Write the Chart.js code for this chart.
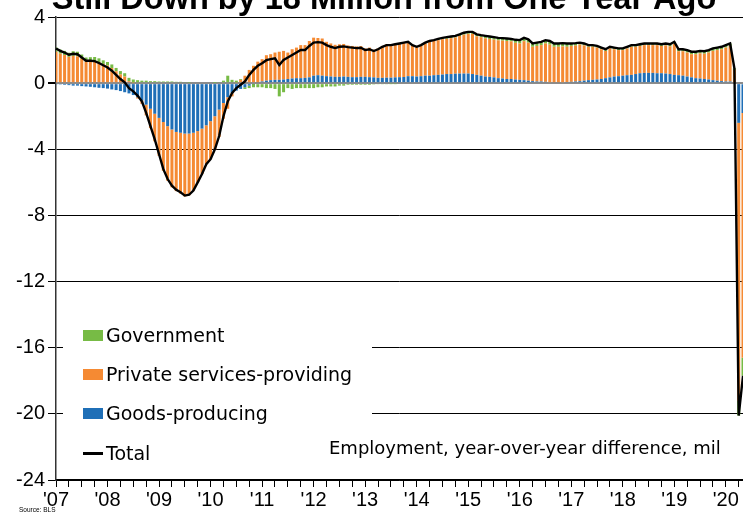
<!DOCTYPE html>
<html>
<head>
<meta charset="utf-8">
<script src="https://cdn.jsdelivr.net/npm/chart.js@4.4.1/dist/chart.umd.min.js"></script>
<style>
  html, body { margin: 0; padding: 0; background: #fff; }
  #wrap { width: 743px; height: 515px; position: relative; }
</style>
</head>
<body>
<div id="wrap"><canvas id="jobsChart" width="743" height="515"></canvas></div>
<script>
(function () {
  "use strict";

  // year labels for the x axis ('07 .. '20); data is monthly Jan 2007 - May 2020
  var years = ["07", "08", "09", "10", "11", "12", "13", "14", "15", "16", "17", "18", "19", "20"];

  // year-over-year change, millions
  var goodsProducing = [
    -0.05, -0.08, -0.1, -0.12, -0.15, -0.15, -0.18, -0.2, -0.22, -0.25, -0.28, -0.3,
    -0.33, -0.38, -0.42, -0.48, -0.55, -0.62, -0.72, -0.85, -1.05, -1.3, -1.55, -1.85,
    -2.1, -2.35, -2.6, -2.8, -2.95, -3.0, -3.05, -3.05, -3.0, -2.9, -2.75, -2.55,
    -2.3, -2.0, -1.6, -1.2, -0.85, -0.6, -0.45, -0.35, -0.25, -0.15, -0.05, 0.05,
    0.1, 0.15, 0.18, 0.2, 0.2, 0.22, 0.25, 0.28, 0.3, 0.3, 0.32, 0.35,
    0.45, 0.48, 0.45, 0.42, 0.4, 0.38, 0.38, 0.4, 0.38, 0.36, 0.36, 0.38,
    0.38, 0.36, 0.35, 0.32, 0.32, 0.33, 0.33, 0.35, 0.36, 0.37, 0.42, 0.42,
    0.4, 0.42, 0.45, 0.45, 0.48, 0.5, 0.52, 0.55, 0.55, 0.57, 0.58, 0.58,
    0.58, 0.55, 0.5, 0.45, 0.4, 0.38, 0.35, 0.3, 0.28, 0.25, 0.25, 0.22,
    0.2, 0.18, 0.15, 0.12, 0.1, 0.1, 0.08, 0.06, 0.05, 0.05, 0.06, 0.07,
    0.08, 0.1, 0.12, 0.15, 0.18, 0.2, 0.22, 0.25, 0.3, 0.35, 0.4, 0.42,
    0.45, 0.48, 0.5, 0.55, 0.6, 0.62, 0.62, 0.62, 0.6, 0.6, 0.58, 0.55,
    0.5, 0.48, 0.45, 0.4, 0.35, 0.3, 0.28, 0.25, 0.22, 0.18, 0.15, 0.12,
    0.1, 0.1, 0.05, -2.4, -1.8
  ];

  var privateServices = [
    1.9, 1.78, 1.7, 1.59, 1.65, 1.62, 1.48, 1.3, 1.32, 1.33, 1.28, 1.16,
    1.06, 0.91, 0.72, 0.53, 0.4, 0.12, 0.04, -0.08, -0.2, -0.65, -1.17, -1.67,
    -2.3, -2.95, -3.3, -3.5, -3.58, -3.68, -3.8, -3.73, -3.5, -3.1, -2.75, -2.35,
    -2.3, -2.02, -1.65, -0.95, -0.7, -0.2, 0.05, 0.2, 0.45, 0.8, 1.05, 1.25,
    1.35, 1.54, 1.57, 1.65, 1.7, 1.73, 1.6, 1.77, 1.85, 2.0, 1.98, 2.2,
    2.3, 2.25, 2.25, 2.08, 2.0, 1.94, 1.97, 1.97, 1.9, 1.89, 1.86, 1.86,
    1.72, 1.79, 1.67, 1.78, 1.93, 2.02, 2.0, 2.03, 2.04, 2.08, 2.06, 1.86,
    1.77, 1.83, 1.95, 2.05, 2.07, 2.1, 2.14, 2.13, 2.17, 2.19, 2.27, 2.35,
    2.4, 2.43, 2.33, 2.33, 2.31, 2.29, 2.28, 2.29, 2.29, 2.3, 2.28, 2.22,
    2.2, 2.36, 2.3, 2.08, 2.15, 2.2, 2.32, 2.27, 2.15, 2.15, 2.16, 2.13,
    2.17, 2.17, 2.21, 2.13, 2.02, 2.0, 1.93, 1.8, 1.65, 1.75, 1.65, 1.58,
    1.55, 1.62, 1.7, 1.65, 1.65, 1.68, 1.68, 1.68, 1.7, 1.65, 1.7, 1.68,
    1.88, 1.45, 1.48, 1.45, 1.4, 1.45, 1.52, 1.53, 1.63, 1.77, 1.85, 1.93,
    2.05, 2.15, 0.75, -16.8, -14.8
  ];

  var government = [
    0.25, 0.25, 0.25, 0.25, 0.28, 0.28, 0.25, 0.25, 0.25, 0.25, 0.22, 0.22,
    0.22, 0.22, 0.2, 0.2, 0.2, 0.2, 0.18, 0.18, 0.15, 0.15, 0.12, 0.12,
    0.1, 0.1, 0.1, 0.1, 0.08, 0.08, 0.05, 0.03, 0.0, 0.0, 0.0, 0.0,
    0.0, 0.02, 0.05, 0.15, 0.45, 0.2, 0.1, 0.05, -0.1, -0.15, -0.2, -0.25,
    -0.25, -0.3, -0.3, -0.35, -0.8, -0.55, -0.3, -0.35, -0.3, -0.3, -0.3, -0.3,
    -0.3, -0.25, -0.25, -0.2, -0.2, -0.2, -0.15, -0.15, -0.1, -0.1, -0.1, -0.1,
    -0.1, -0.1, -0.08, -0.05, -0.05, -0.05, -0.03, -0.03, 0.0, 0.0, 0.02, 0.02,
    0.03, 0.05, 0.05, 0.05, 0.05, 0.08, 0.08, 0.1, 0.1, 0.1, 0.1, 0.12,
    0.12, 0.12, 0.12, 0.12, 0.15, 0.15, 0.15, 0.15, 0.15, 0.15, 0.15, 0.18,
    0.2, 0.2, 0.2, 0.2, 0.2, 0.2, 0.2, 0.22, 0.2, 0.2, 0.2, 0.2,
    0.15, 0.15, 0.12, 0.12, 0.1, 0.1, 0.1, 0.1, 0.1, 0.1, 0.1, 0.1,
    0.1, 0.1, 0.1, 0.1, 0.1, 0.1, 0.1, 0.1, 0.1, 0.1, 0.12, 0.12,
    0.12, 0.12, 0.12, 0.15, 0.15, 0.15, 0.15, 0.15, 0.15, 0.15, 0.15, 0.15,
    0.15, 0.15, 0.1, -0.9, -1.1
  ];

  var totalEmployment = [
    2.1, 1.95, 1.85, 1.72, 1.78, 1.75, 1.55, 1.35, 1.35, 1.33, 1.22, 1.08,
    0.95, 0.75, 0.5, 0.25, 0.05, -0.3, -0.5, -0.75, -1.1, -1.8, -2.6, -3.4,
    -4.3, -5.2, -5.8, -6.2, -6.45, -6.6, -6.8, -6.75, -6.5, -6.0, -5.5, -4.9,
    -4.6, -4.0, -3.2, -2.0, -1.1, -0.6, -0.3, -0.1, 0.1, 0.5, 0.8, 1.05,
    1.2, 1.39, 1.45, 1.5, 1.1, 1.4, 1.55, 1.7, 1.85, 2.0, 2.0, 2.25,
    2.45, 2.48, 2.45, 2.3, 2.2, 2.12, 2.2, 2.22, 2.18, 2.15, 2.12, 2.14,
    2.0, 2.05, 1.94, 2.05, 2.2, 2.3, 2.3, 2.35, 2.4, 2.45, 2.5, 2.3,
    2.2, 2.3, 2.45, 2.55, 2.6, 2.68, 2.74, 2.78, 2.82, 2.86, 2.95, 3.05,
    3.1, 3.1, 2.95, 2.9, 2.86, 2.82, 2.78, 2.74, 2.72, 2.7, 2.68, 2.62,
    2.6, 2.74, 2.65, 2.4, 2.45, 2.5, 2.6, 2.55, 2.4, 2.4, 2.42, 2.4,
    2.4, 2.42, 2.45, 2.4, 2.3, 2.3, 2.25, 2.15, 2.05, 2.2, 2.15, 2.1,
    2.1, 2.2, 2.3, 2.3, 2.35, 2.4, 2.4, 2.4, 2.4, 2.35, 2.4, 2.35,
    2.5, 2.05, 2.05, 2.0, 1.9, 1.9, 1.95, 1.93, 2.0, 2.1, 2.15, 2.2,
    2.3, 2.4, 0.9, -20.1, -17.7
  ];

  var months = [];
  years.forEach(function (yy) {
    for (var m = 1; m <= 12; m++) {
      if (months.length < totalEmployment.length) months.push("20" + yy + "-" + (m < 10 ? "0" : "") + m);
    }
  });

  var GREEN = "#77bb45";
  var ORANGE = "#f58a33";
  var BLUE = "#1f6fb7";

  var tickFont = { family: "'Liberation Sans', Arial, sans-serif", size: 20 };

  // title (cut off at the top), legend box, note and source
  var decorations = {
    id: "decorations",
    afterDraw: function (chart) {
      var ctx = chart.ctx;
      ctx.save();
      ctx.fillStyle = "#000";
      ctx.font = "bold 32.5px 'Liberation Sans', Arial, sans-serif";
      ctx.textAlign = "center";
      ctx.textBaseline = "alphabetic";
      ctx.fillText("Still Down by 18 Million from One Year Ago", 384, 9);

      // legend
      ctx.fillStyle = "#fff";
      ctx.fillRect(63, 300, 309, 172);
      var items = [
        { label: "Government", color: GREEN, y: 342 },
        { label: "Private services-providing", color: ORANGE, y: 381 },
        { label: "Goods-producing", color: BLUE, y: 420 },
        { label: "Total", color: "#000", y: 460, line: true }
      ];
      ctx.textAlign = "left";
      ctx.font = "19px 'DejaVu Sans', Verdana, sans-serif";
      items.forEach(function (it) {
        ctx.fillStyle = it.color;
        if (it.line) {
          ctx.fillRect(83, it.y - 8, 20, 3);
        } else {
          ctx.fillRect(83, it.y - 12, 20, 11);
        }
        ctx.fillStyle = "#000";
        ctx.fillText(it.label, 106, it.y);
      });

      ctx.font = "18px 'DejaVu Sans', Verdana, sans-serif";
      ctx.fillText("Employment, year-over-year difference, mil", 329, 454);

      ctx.font = "6.5px 'Liberation Sans Narrow', 'Liberation Sans', Arial, sans-serif";
      ctx.fillText("Source: BLS", 19, 512);
      ctx.restore();
    }
  };

  var canvas = document.getElementById("jobsChart");
  new Chart(canvas.getContext("2d"), {
    type: "bar",
    data: {
      labels: months,
      datasets: [
        {
          type: "line",
          label: "Total",
          data: totalEmployment,
          borderColor: "#000",
          borderWidth: 2.4,
          pointRadius: 0,
          tension: 0,
          stack: "total",
          order: 0
        },
        {
          label: "Goods-producing",
          data: goodsProducing,
          backgroundColor: BLUE,
          stack: "parts",
          barPercentage: 0.7,
          categoryPercentage: 1,
          order: 1
        },
        {
          label: "Private services-providing",
          data: privateServices,
          backgroundColor: ORANGE,
          stack: "parts",
          barPercentage: 0.7,
          categoryPercentage: 1,
          order: 1
        },
        {
          label: "Government",
          data: government,
          backgroundColor: GREEN,
          stack: "parts",
          barPercentage: 0.7,
          categoryPercentage: 1,
          order: 1
        }
      ]
    },
    options: {
      responsive: false,
      animation: false,
      layout: { padding: { top: 17, left: 0, right: 0, bottom: 0 } },
      scales: {
        x: {
          stacked: true,
          offset: false,
          afterFit: function (scale) { scale.height = 35; },
          grid: {
            offset: false,
            drawOnChartArea: false,
            drawTicks: true,
            tickLength: 7,
            color: "#000"
          },
          border: { display: true, color: "#000", width: 1.5 },
          ticks: {
            autoSkip: false,
            maxRotation: 0,
            minRotation: 0,
            padding: 1,
            color: "#000",
            font: tickFont,
            callback: function (value, index) {
              if (index % 12 === 0) return "'" + years[index / 12];
              if (index % 3 === 0) return "";
              return null;
            }
          }
        },
        y: {
          stacked: true,
          min: -24,
          max: 4,
          afterFit: function (scale) { scale.width = 56; },
          grid: {
            color: function (c) { return c.tick && c.tick.value === 0 ? "#8c8c8c" : "#000"; },
            lineWidth: function (c) { return c.tick && c.tick.value === 0 ? 2 : 1; },
            tickColor: "#000",
            tickLength: 8
          },
          border: { display: true, color: "#333", width: 1.5 },
          ticks: {
            stepSize: 4,
            padding: 3,
            color: "#000",
            font: tickFont
          }
        }
      },
      plugins: {
        legend: { display: false },
        tooltip: { enabled: false }
      }
    },
    plugins: [decorations]
  });
})();
</script>
</body>
</html>
